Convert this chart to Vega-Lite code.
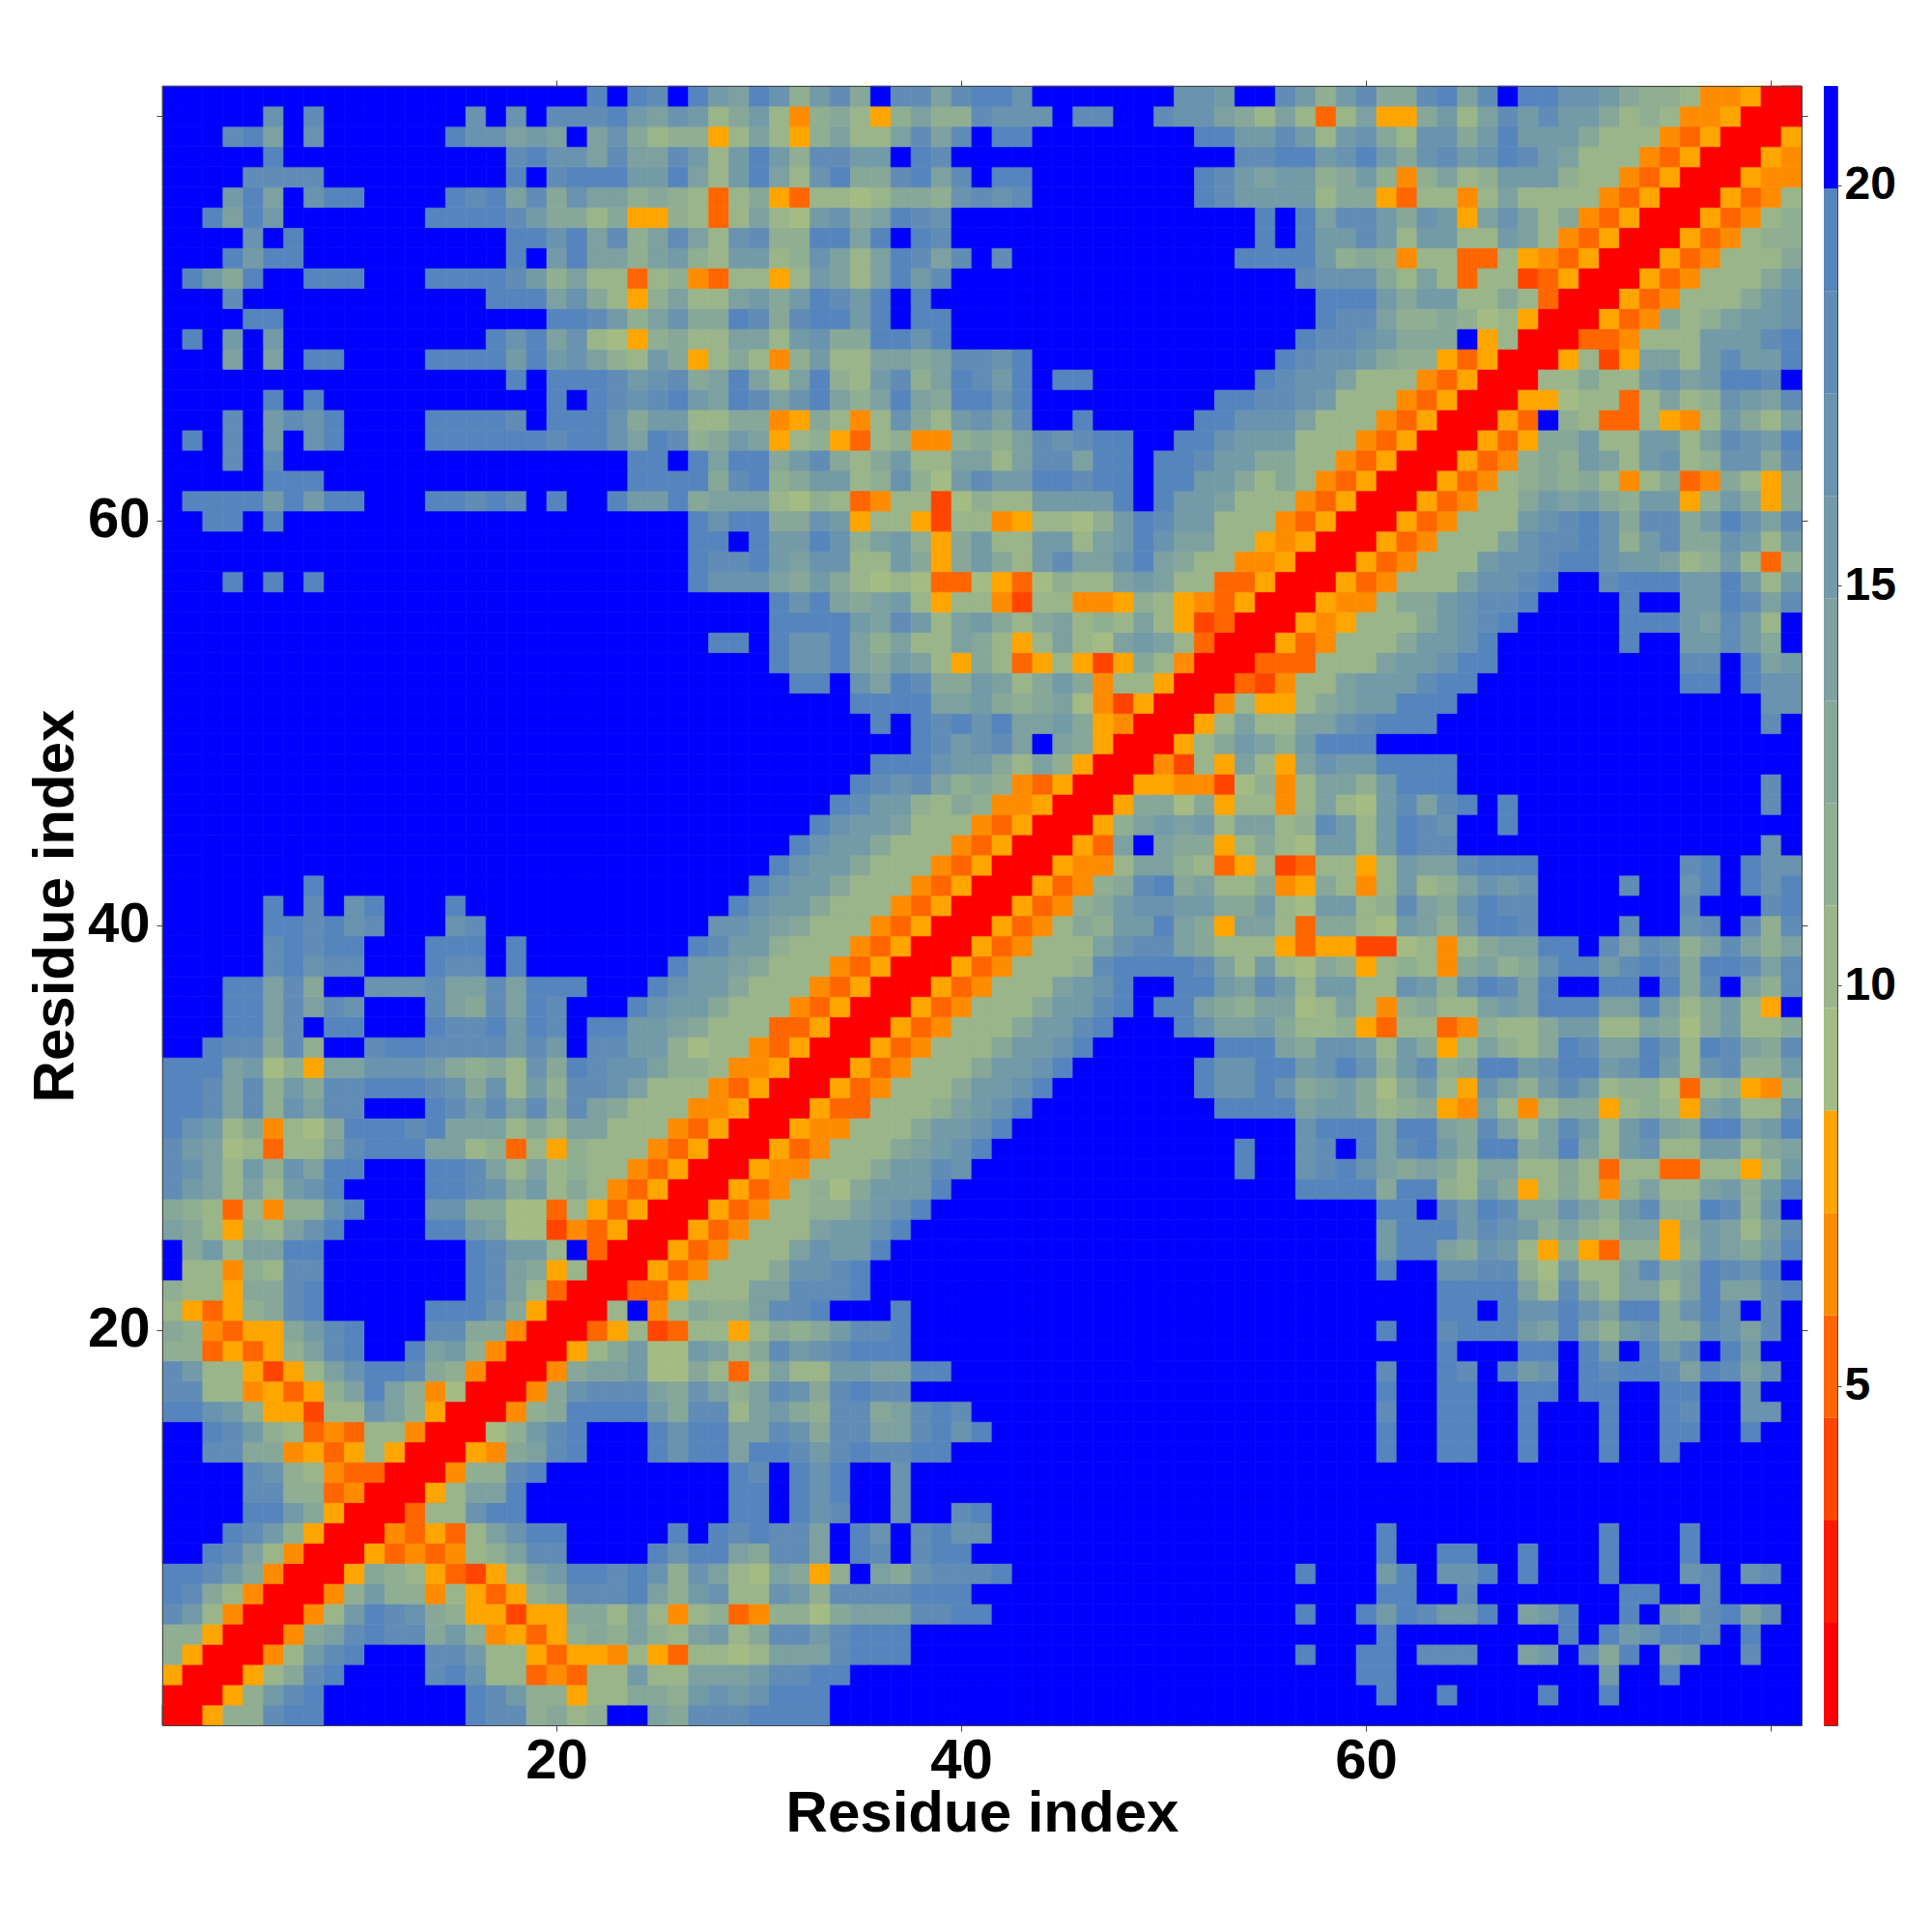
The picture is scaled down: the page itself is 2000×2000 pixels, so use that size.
{"$schema":"https://vega.github.io/schema/vega-lite/v6.json","background":"white","padding":{"left":27,"top":82,"right":0,"bottom":0},"bounds":"flush","spacing":23,"config":{"view":{"stroke":null},"font":"Liberation Sans","axis":{"grid":false,"tickColor":"#444","tickSize":6,"tickWidth":1,"domainColor":"#444","domainWidth":1,"labelColor":"#000","titleColor":"#000","labelFont":"Liberation Sans","titleFont":"Liberation Sans","labelFontWeight":"bold","titleFontWeight":"bold","labelFontSize":58,"titleFontSize":60,"labelAngle":0}},"hconcat":[{"width":1697,"height":1697,"data":{"values":[
{"r":1,"d":[1]},
{"r":2,"d":[1,1]},
{"r":3,"d":[8,1,1]},
{"r":4,"d":[12,8,1,1]},
{"r":5,"d":[12,12,8,1,1]},
{"r":6,"d":[18,15,10,6,1,1]},
{"r":7,"d":[19,18,13,10,6,1,1]},
{"r":8,"d":[19,19,18,15,13,6,1,1]},
{"r":9,"d":[21,21,19,18,14,10,6,1,1]},
{"r":10,"d":[21,21,21,19,18,15,12,8,1,1]},
{"r":11,"d":[21,21,21,21,19,19,15,13,8,1,1]},
{"r":12,"d":[21,21,21,21,18,18,12,12,5,6,1,1]},
{"r":13,"d":[21,21,21,21,18,17,12,10,6,5,5,1,1]},
{"r":14,"d":[21,21,18,18,13,13,6,8,5,8,10,8,1,1]},
{"r":15,"d":[21,21,19,18,15,12,10,5,6,5,10,10,6,1,1]},
{"r":16,"d":[19,19,17,15,12,8,8,4,10,10,17,14,12,8,1,1]},
{"r":17,"d":[18,18,10,10,6,8,5,8,12,14,19,14,12,6,9,1,1]},
{"r":18,"d":[18,15,10,10,8,4,8,10,14,17,19,19,18,13,12,6,1,1]},
{"r":19,"d":[12,12,5,8,5,8,12,14,18,19,21,21,19,14,15,12,6,1,1]},
{"r":20,"d":[13,12,6,5,8,8,13,15,18,19,21,21,21,18,18,13,13,6,1,1]},
{"r":21,"d":[10,8,5,8,12,13,18,19,21,21,21,21,21,19,19,19,17,13,8,1,1]},
{"r":22,"d":[12,10,10,8,13,13,18,19,21,21,21,21,21,21,21,19,18,14,10,5,1,1]},
{"r":23,"d":[21,10,10,6,12,10,18,18,21,21,21,21,21,21,21,19,18,14,13,8,10,1,1]},
{"r":24,"d":[21,13,15,10,14,14,19,19,21,21,21,21,21,21,21,19,18,15,15,10,21,5,1,1]},
{"r":25,"d":[14,13,10,8,12,10,14,17,19,21,21,21,21,19,19,15,14,9,9,4,6,5,8,1,1]},
{"r":26,"d":[13,12,10,5,10,6,12,12,17,19,21,21,21,17,17,13,13,9,9,5,10,8,5,8,1,1]},
{"r":27,"d":[18,15,14,10,14,10,15,17,19,21,21,21,21,19,19,18,17,13,15,10,13,10,6,5,8,1,1]},
{"r":28,"d":[18,17,14,10,15,12,17,14,19,19,21,21,21,19,19,18,14,10,14,10,12,10,10,6,5,8,1,1]},
{"r":29,"d":[18,15,14,9,10,5,10,10,14,18,19,19,19,14,14,10,12,5,10,8,12,10,10,10,6,5,8,1,1]},
{"r":30,"d":[19,17,15,10,13,6,10,9,13,19,19,19,18,19,14,14,14,10,13,10,14,14,10,10,10,6,5,8,1,1]},
{"r":31,"d":[19,19,18,14,18,12,17,14,18,18,21,21,21,19,18,15,18,14,18,13,18,14,13,10,10,10,6,6,8,1,1]},
{"r":32,"d":[19,19,18,14,18,12,15,13,18,18,19,19,19,18,17,13,17,10,15,12,18,18,17,14,10,10,10,6,5,8,1,1]},
{"r":33,"d":[19,19,19,14,15,9,12,8,14,14,17,17,17,15,13,12,13,10,17,13,19,18,17,17,14,12,12,10,6,6,8,1,1]},
{"r":34,"d":[21,21,19,18,18,13,18,12,21,21,18,19,19,18,18,18,18,15,18,15,21,18,18,15,15,12,9,10,10,6,5,8,1,1]},
{"r":35,"d":[21,21,21,19,19,14,18,21,19,19,21,21,21,19,18,18,19,15,19,18,21,19,19,15,15,14,13,10,10,10,5,5,8,1,1]},
{"r":36,"d":[21,21,21,19,19,14,18,14,18,17,21,21,21,18,14,13,18,14,19,18,21,21,21,19,17,15,15,13,10,10,10,6,5,8,1,1]},
{"r":37,"d":[21,21,21,19,19,14,18,13,21,21,17,17,17,18,14,14,18,14,19,19,19,21,21,21,19,17,15,15,13,10,10,10,6,5,8,1,1]},
{"r":38,"d":[21,21,21,21,21,18,19,17,18,18,21,21,21,19,18,18,21,19,21,21,21,21,21,21,21,19,15,15,14,13,10,10,10,6,5,8,1,1]},
{"r":39,"d":[21,21,21,21,21,18,19,18,19,19,21,21,21,19,19,19,21,19,21,21,21,21,21,21,21,21,19,18,15,15,12,10,10,10,6,5,8,1,1]},
{"r":40,"d":[21,21,21,21,21,19,19,18,19,17,18,21,21,21,17,18,21,21,21,21,21,21,21,21,21,21,21,17,17,15,14,13,10,10,10,6,5,8,1,1]},
{"r":41,"d":[21,21,21,21,21,19,21,18,21,17,19,21,21,21,19,21,21,21,21,21,21,21,21,21,21,21,21,21,19,17,15,15,13,10,10,10,6,5,8,1,1]},
{"r":42,"d":[21,21,21,21,21,21,21,19,21,21,21,21,21,21,21,21,21,21,21,21,21,21,21,21,21,21,21,21,21,19,17,15,15,13,10,10,10,6,5,8,1,1]},
{"r":43,"d":[21,21,21,21,21,21,21,21,21,21,21,21,21,21,21,21,21,21,21,21,21,21,21,21,21,21,21,21,21,21,19,17,15,15,13,10,10,10,6,5,8,1,1]},
{"r":44,"d":[21,21,21,21,21,21,21,21,21,21,21,21,21,21,21,21,21,21,21,21,21,21,21,21,21,21,21,21,21,21,21,19,17,15,15,13,10,10,10,6,5,8,1,1]},
{"r":45,"d":[21,21,21,21,21,21,21,21,21,21,21,21,21,21,21,21,21,21,21,21,21,21,21,21,21,21,21,21,21,21,21,21,19,17,15,15,14,10,10,10,6,5,8,1,1]},
{"r":46,"d":[21,21,21,21,21,21,21,21,21,21,21,21,21,21,21,21,21,21,21,21,21,21,21,21,21,21,21,21,21,21,21,21,21,19,18,15,15,12,10,13,12,6,6,8,1,1]},
{"r":47,"d":[21,21,21,21,21,21,21,21,21,21,21,21,21,21,21,21,21,21,21,21,21,21,21,21,21,21,21,21,21,21,21,21,21,21,19,18,17,18,14,12,13,12,6,5,8,1,1]},
{"r":48,"d":[21,21,21,21,21,21,21,21,21,21,21,21,21,21,21,21,21,21,21,21,21,21,21,21,21,21,21,21,21,21,21,21,21,21,21,19,19,19,17,15,15,13,10,14,12,8,1,1]},
{"r":49,"d":[21,21,21,21,21,21,21,21,21,21,21,21,21,21,21,21,21,21,21,21,21,21,21,21,21,21,21,21,21,21,21,21,21,21,21,21,21,19,18,15,17,18,14,21,14,13,8,1,1]},
{"r":50,"d":[21,21,21,21,21,21,21,21,21,21,21,21,21,21,21,21,21,21,21,21,21,21,21,21,21,21,21,21,21,21,21,21,21,21,21,19,21,19,18,19,17,19,14,14,15,13,8,6,1,1]},
{"r":51,"d":[21,21,21,21,21,21,21,21,21,21,21,21,21,21,21,21,21,21,21,21,21,21,21,21,21,21,21,21,21,21,21,21,21,21,19,19,19,19,14,14,15,13,12,13,14,9,6,4,8,1,1]},
{"r":52,"d":[21,21,21,21,21,21,21,21,21,21,21,21,21,21,21,21,21,21,21,21,21,21,21,21,21,21,21,21,21,21,21,19,19,21,17,14,19,18,13,13,15,14,10,13,15,13,6,10,10,8,1,1]},
{"r":53,"d":[21,21,21,21,21,21,21,21,21,21,21,21,21,21,21,21,21,21,21,21,21,21,21,21,21,21,21,21,21,21,19,17,17,19,14,13,15,14,10,8,13,10,5,8,10,8,4,8,13,10,6,1,1]},
{"r":54,"d":[21,21,21,21,21,21,21,21,21,21,21,21,21,21,21,21,21,21,21,21,21,21,21,21,21,21,21,19,19,21,19,17,17,19,14,12,14,10,10,14,13,10,8,10,14,10,9,14,15,14,10,5,1,1]},
{"r":55,"d":[21,21,21,21,21,21,21,21,21,21,21,21,21,21,21,21,21,21,21,21,21,21,21,21,21,21,21,21,21,21,19,19,19,19,15,14,18,15,10,14,15,13,10,13,14,10,12,10,14,10,8,4,5,1,1]},
{"r":56,"d":[21,21,21,21,21,21,21,21,21,21,21,21,21,21,21,21,21,21,21,21,21,21,21,21,21,21,21,21,21,21,19,17,19,14,13,14,15,10,8,10,10,6,4,10,10,6,6,8,12,10,8,6,5,8,1,1]},
{"r":57,"d":[21,21,21,19,21,19,21,19,21,21,21,21,21,21,21,21,21,21,21,21,21,21,21,21,21,21,19,17,17,17,14,13,15,13,10,9,10,9,5,5,9,8,5,9,12,10,10,14,15,14,10,10,5,5,8,1,1]},
{"r":58,"d":[21,21,21,21,21,21,21,21,21,21,21,21,21,21,21,21,21,21,21,21,21,21,21,21,21,21,19,18,18,19,15,14,17,17,10,10,15,13,8,13,15,13,10,15,18,14,14,17,19,14,13,10,10,6,6,8,1,1]},
{"r":59,"d":[21,21,21,21,21,21,21,21,21,21,21,21,21,21,21,21,21,21,21,21,21,21,21,21,21,21,19,19,21,19,15,15,19,17,12,14,15,12,8,13,15,10,10,15,15,10,14,15,19,17,14,14,10,10,8,6,8,1,1]},
{"r":60,"d":[21,21,19,19,21,19,21,21,21,21,21,21,21,21,21,21,21,21,21,21,21,21,21,21,21,21,19,17,19,19,13,13,17,15,8,10,10,8,4,10,10,6,8,10,10,9,12,15,19,18,15,15,10,10,10,6,5,8,1,1]},
{"r":61,"d":[21,19,19,19,19,15,19,15,19,19,21,21,21,19,19,18,19,18,21,19,21,21,19,15,15,19,13,14,14,14,10,9,12,10,5,6,10,10,4,9,12,10,10,15,15,15,15,19,21,19,15,15,14,10,10,10,6,5,8,1,1]},
{"r":62,"d":[21,21,21,21,21,19,19,19,21,21,21,21,21,21,21,21,21,21,21,21,21,21,21,19,19,19,19,13,18,19,12,13,15,15,10,12,17,12,9,15,18,15,15,19,19,18,19,19,21,19,19,15,15,13,10,13,10,6,5,8,1,1]},
{"r":63,"d":[21,21,21,18,21,18,21,21,21,21,21,21,21,21,21,21,21,21,21,21,21,21,21,19,19,21,19,14,19,19,13,15,18,13,10,13,15,10,10,14,14,10,14,18,18,14,19,19,21,19,19,18,15,15,13,13,10,10,6,5,8,1,1]},
{"r":64,"d":[21,19,21,18,21,15,21,17,19,21,21,21,21,19,19,19,19,19,19,18,19,19,17,14,19,18,12,13,15,14,8,10,12,8,5,10,12,6,6,12,13,12,14,18,17,18,19,19,21,21,19,19,17,15,15,15,10,10,10,6,5,8,1,1]},
{"r":65,"d":[21,21,21,18,21,15,18,17,19,21,21,21,21,19,19,19,19,18,21,19,19,19,17,13,15,15,10,10,13,13,6,8,13,10,6,10,17,13,10,15,17,14,18,21,21,19,21,21,21,21,21,19,19,17,17,17,14,10,10,10,6,5,8,1,1]},
{"r":66,"d":[21,21,21,21,21,19,21,19,21,21,21,21,21,21,21,21,21,21,21,19,21,19,18,17,18,19,15,14,19,18,14,17,19,14,12,14,19,14,13,19,19,17,19,21,21,21,21,21,21,21,21,21,19,19,18,18,17,15,10,10,10,6,5,8,1,1]},
{"r":67,"d":[21,21,21,21,21,21,21,21,21,21,21,21,21,21,21,21,21,19,21,19,19,19,18,15,17,18,13,14,19,14,10,14,19,12,10,15,18,12,14,19,18,15,19,21,19,19,21,21,21,21,21,21,21,21,19,18,17,17,14,10,10,10,6,5,8,1,1]},
{"r":68,"d":[21,21,21,14,21,14,21,19,19,21,21,21,21,19,19,19,19,15,19,15,17,14,12,10,15,13,8,10,13,10,6,12,15,10,10,14,14,13,14,18,18,17,19,21,21,21,21,21,21,21,21,21,21,21,21,19,18,17,17,15,13,12,12,8,5,8,1,1]},
{"r":69,"d":[21,19,21,15,21,15,21,21,21,21,21,21,21,21,21,21,19,17,19,14,17,10,9,8,12,13,10,10,14,14,10,15,17,13,13,19,19,17,19,21,21,21,21,21,21,21,21,21,21,21,21,21,21,21,21,21,19,18,18,17,15,13,13,13,21,8,10,1,1]},
{"r":70,"d":[21,21,21,21,19,19,21,21,21,21,21,21,21,21,21,21,21,21,21,19,19,18,15,12,14,17,13,13,19,18,13,18,19,19,15,19,21,19,19,21,21,21,21,21,21,21,21,21,21,21,21,21,21,21,21,21,21,19,18,18,14,12,12,13,12,9,10,8,1,1]},
{"r":71,"d":[21,21,21,18,21,21,21,21,21,21,21,21,21,21,21,21,19,19,19,14,17,13,10,8,12,14,10,10,14,15,13,15,19,18,15,19,21,19,21,21,21,21,21,21,21,21,21,21,21,21,21,21,21,21,21,21,21,19,19,19,15,13,15,15,10,10,13,10,5,1,1]},
{"r":72,"d":[21,19,15,13,19,21,21,19,19,19,21,21,21,19,19,19,19,18,15,12,14,10,10,5,10,12,6,5,10,10,8,10,15,14,10,14,19,15,18,21,21,21,21,21,21,21,21,21,21,21,21,21,21,21,21,21,18,17,17,17,13,10,14,10,5,10,10,4,5,8,1,1]},
{"r":73,"d":[21,21,21,19,15,19,19,21,21,21,21,21,21,21,21,21,21,19,21,15,19,14,14,12,14,15,12,10,15,15,10,12,17,14,10,14,19,18,14,18,21,18,21,21,21,21,21,21,21,21,21,21,21,19,19,19,19,15,12,13,12,6,10,10,5,5,10,8,6,5,8,1,1]},
{"r":74,"d":[21,21,21,21,17,21,19,21,21,21,21,21,21,21,21,21,21,19,19,17,19,14,18,12,14,18,14,10,17,18,12,12,19,19,14,19,21,19,18,21,21,21,21,21,21,21,21,21,21,21,21,21,21,21,19,21,19,15,15,18,15,10,15,15,10,10,15,14,10,6,5,8,1,1]},
{"r":75,"d":[21,21,19,14,19,15,21,21,21,21,21,21,21,19,19,19,19,18,15,13,13,10,13,8,8,12,10,5,10,14,10,9,15,17,13,14,19,18,17,21,21,21,21,21,21,21,21,21,21,21,21,21,21,21,19,21,19,14,18,18,15,13,17,15,8,14,17,14,10,13,6,5,8,1,1]},
{"r":76,"d":[21,21,21,15,19,14,21,17,19,19,21,21,21,21,19,18,19,14,18,13,17,14,14,12,13,12,10,5,10,13,8,5,10,10,9,10,13,13,12,17,18,17,18,21,21,21,21,21,21,21,21,19,18,15,15,15,15,10,13,13,8,5,10,10,6,10,14,10,10,10,10,6,5,8,1,1]},
{"r":77,"d":[21,21,21,21,18,18,18,18,21,21,21,21,21,21,21,21,21,19,21,18,19,19,19,15,15,19,14,10,15,19,14,10,17,19,13,13,18,19,14,18,21,19,19,21,21,21,21,21,21,21,21,19,18,15,14,15,15,12,13,15,12,6,12,14,10,12,15,15,15,12,10,10,6,5,8,1,1]},
{"r":78,"d":[21,21,21,21,21,19,21,21,21,21,21,21,21,21,21,21,21,18,19,17,17,14,18,14,14,18,15,10,15,19,15,12,18,18,15,15,21,19,18,21,21,21,21,21,21,21,21,21,21,21,21,21,21,18,18,19,19,15,17,19,15,13,17,18,15,17,19,18,15,14,10,10,10,6,5,8,1,1]},
{"r":79,"d":[21,21,21,18,19,14,21,17,21,21,21,21,21,21,19,17,17,14,15,14,21,14,17,13,10,12,12,8,10,14,10,8,12,14,10,10,14,18,14,18,21,19,19,21,21,21,21,21,21,21,21,19,19,15,15,18,15,10,15,17,13,10,17,17,13,15,19,15,15,15,13,10,10,10,6,5,8,1,1]},
{"r":80,"d":[21,21,21,21,21,17,21,18,21,21,21,21,21,21,21,17,21,17,21,18,18,18,19,15,14,17,15,10,13,15,10,6,12,13,10,8,12,14,12,12,18,17,17,17,21,18,18,21,21,18,17,17,14,13,10,14,10,5,10,14,8,8,13,15,10,14,18,15,18,15,15,13,10,12,10,6,6,8,1,1]},
{"r":81,"d":[21,21,21,21,21,21,21,21,21,21,21,21,21,21,21,21,21,21,21,21,21,19,21,19,18,21,19,15,14,19,17,12,15,18,13,21,18,18,14,18,19,19,17,21,21,21,21,21,21,21,17,17,15,21,21,18,15,12,15,18,13,13,18,19,14,18,21,19,19,17,17,15,13,12,12,10,6,6,8,1,1]}
]},"transform":[{"flatten":["d"]},{"window":[{"op":"row_number","as":"x"}],"groupby":["r"]}],"layer":[{"mark":{"type":"rect","strokeWidth":0.7},"encoding":{"x":{"field":"x","type":"ordinal","scale":{"domain":[1,2,3,4,5,6,7,8,9,10,11,12,13,14,15,16,17,18,19,20,21,22,23,24,25,26,27,28,29,30,31,32,33,34,35,36,37,38,39,40,41,42,43,44,45,46,47,48,49,50,51,52,53,54,55,56,57,58,59,60,61,62,63,64,65,66,67,68,69,70,71,72,73,74,75,76,77,78,79,80,81],"paddingInner":0,"paddingOuter":0},"axis":{"orient":"bottom","values":[20,40,60,80],"labelExpr":"datum.value==80?'':datum.label","title":"Residue index","labelPadding":2,"titlePadding":-4,"zindex":1}},"y":{"field":"r","type":"ordinal","scale":{"domain":[1,2,3,4,5,6,7,8,9,10,11,12,13,14,15,16,17,18,19,20,21,22,23,24,25,26,27,28,29,30,31,32,33,34,35,36,37,38,39,40,41,42,43,44,45,46,47,48,49,50,51,52,53,54,55,56,57,58,59,60,61,62,63,64,65,66,67,68,69,70,71,72,73,74,75,76,77,78,79,80,81],"reverse":true,"paddingInner":0,"paddingOuter":0},"axis":{"orient":"left","values":[20,40,60,80],"labelExpr":"datum.value==80?'':datum.label","title":"Residue index","labelPadding":7,"titlePadding":2,"zindex":1}},"color":{"field":"d","type":"quantitative","scale":{"type":"threshold","domain":[2.04,3.32,4.6,5.88,7.16,8.44,9.72,11,12.28,13.56,14.84,16.12,17.4,18.68,19.96],"range":["#FF0000","#FF1A00","#FF4500","#FF6600","#FF8C00","#FFA500","#A4BC83","#9AB58A","#90AE91","#87A799","#7DA1A0","#739AA7","#6993AE","#608CB6","#5685BD","#0000FF"]},"legend":null},"stroke":{"field":"d","type":"quantitative","scale":{"type":"threshold","domain":[2.04,3.32,4.6,5.88,7.16,8.44,9.72,11,12.28,13.56,14.84,16.12,17.4,18.68,19.96],"range":["#FF0000","#FF1A00","#FF4500","#FF6600","#FF8C00","#FFA500","#A4BC83","#9AB58A","#90AE91","#87A799","#7DA1A0","#739AA7","#6993AE","#608CB6","#5685BD","#0000FF"]},"legend":null}}},{"mark":{"type":"rect","strokeWidth":0.7},"encoding":{"x":{"field":"r","type":"ordinal","scale":{"domain":[1,2,3,4,5,6,7,8,9,10,11,12,13,14,15,16,17,18,19,20,21,22,23,24,25,26,27,28,29,30,31,32,33,34,35,36,37,38,39,40,41,42,43,44,45,46,47,48,49,50,51,52,53,54,55,56,57,58,59,60,61,62,63,64,65,66,67,68,69,70,71,72,73,74,75,76,77,78,79,80,81],"paddingInner":0,"paddingOuter":0},"axis":{"orient":"top","values":[20,40,60,80],"labels":false,"title":null,"zindex":1}},"y":{"field":"x","type":"ordinal","scale":{"domain":[1,2,3,4,5,6,7,8,9,10,11,12,13,14,15,16,17,18,19,20,21,22,23,24,25,26,27,28,29,30,31,32,33,34,35,36,37,38,39,40,41,42,43,44,45,46,47,48,49,50,51,52,53,54,55,56,57,58,59,60,61,62,63,64,65,66,67,68,69,70,71,72,73,74,75,76,77,78,79,80,81],"reverse":true,"paddingInner":0,"paddingOuter":0},"axis":{"orient":"right","values":[20,40,60,80],"labels":false,"title":null,"zindex":1}},"color":{"field":"d","type":"quantitative","scale":{"type":"threshold","domain":[2.04,3.32,4.6,5.88,7.16,8.44,9.72,11,12.28,13.56,14.84,16.12,17.4,18.68,19.96],"range":["#FF0000","#FF1A00","#FF4500","#FF6600","#FF8C00","#FFA500","#A4BC83","#9AB58A","#90AE91","#87A799","#7DA1A0","#739AA7","#6993AE","#608CB6","#5685BD","#0000FF"]},"legend":null},"stroke":{"field":"d","type":"quantitative","scale":{"type":"threshold","domain":[2.04,3.32,4.6,5.88,7.16,8.44,9.72,11,12.28,13.56,14.84,16.12,17.4,18.68,19.96],"range":["#FF0000","#FF1A00","#FF4500","#FF6600","#FF8C00","#FFA500","#A4BC83","#9AB58A","#90AE91","#87A799","#7DA1A0","#739AA7","#6993AE","#608CB6","#5685BD","#0000FF"]},"legend":null}}}],"resolve":{"axis":{"x":"independent","y":"independent"}}},{"width":14,"height":1697,"view":{"stroke":"#444"},"data":{"values":[{"lo":0.76,"hi":2.04},{"lo":2.04,"hi":3.32},{"lo":3.32,"hi":4.6},{"lo":4.6,"hi":5.88},{"lo":5.88,"hi":7.16},{"lo":7.16,"hi":8.44},{"lo":8.44,"hi":9.72},{"lo":9.72,"hi":11},{"lo":11,"hi":12.28},{"lo":12.28,"hi":13.56},{"lo":13.56,"hi":14.84},{"lo":14.84,"hi":16.12},{"lo":16.12,"hi":17.4},{"lo":17.4,"hi":18.68},{"lo":18.68,"hi":19.96},{"lo":19.96,"hi":21.24}]},"mark":{"type":"rect"},"encoding":{"y":{"field":"lo","type":"quantitative","scale":{"domain":[0.76,21.24],"nice":false,"zero":false},"axis":{"orient":"right","values":[5,10,15,20],"title":null,"labelFontSize":48,"tickSize":4,"labelPadding":3,"domain":false}},"y2":{"field":"hi"},"color":{"field":"lo","type":"quantitative","scale":{"type":"threshold","domain":[2.04,3.32,4.6,5.88,7.16,8.44,9.72,11,12.28,13.56,14.84,16.12,17.4,18.68,19.96],"range":["#FF0000","#FF1A00","#FF4500","#FF6600","#FF8C00","#FFA500","#A4BC83","#9AB58A","#90AE91","#87A799","#7DA1A0","#739AA7","#6993AE","#608CB6","#5685BD","#0000FF"]},"legend":null}}}]}
